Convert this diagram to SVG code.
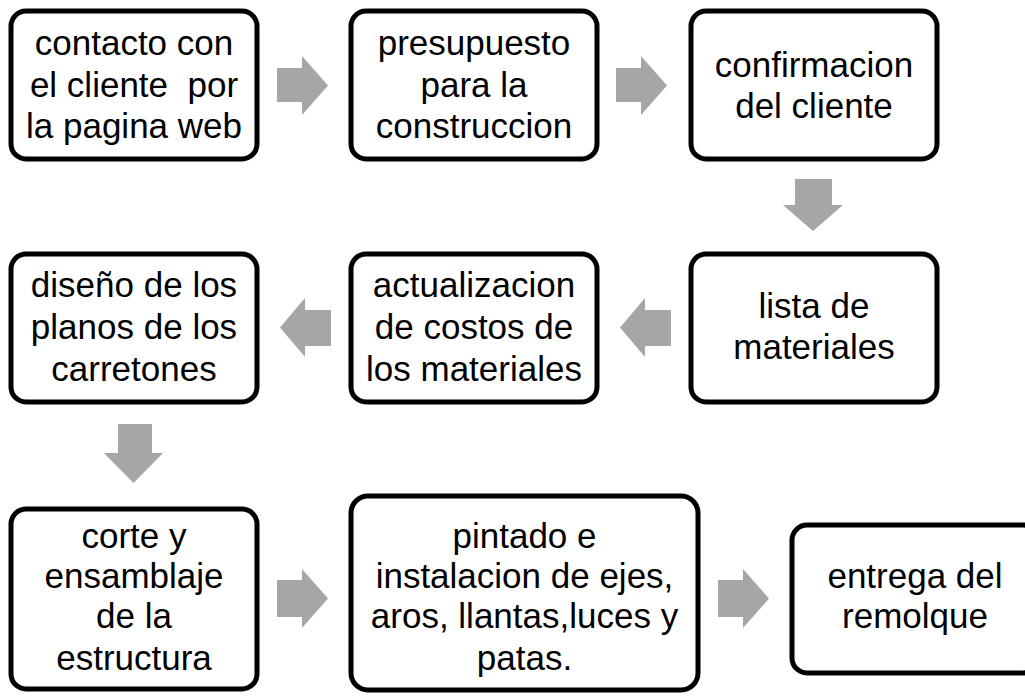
<svg xmlns="http://www.w3.org/2000/svg" width="1025" height="698" viewBox="0 0 1025 698">
<style>
.box{fill:#fff;stroke:#000;stroke-width:5}
.t{font-family:"Liberation Sans",Arial,sans-serif;font-size:35px;fill:#000;text-anchor:middle;white-space:pre}
.arr{fill:#a6a6a6}
</style>
<rect width="1025" height="698" fill="#fff"/>
<g id="connectors">
<polygon class="arr" points="277,68 302,68 302,56 328,85.5 302,115 302,102 277,102"/>
<polygon class="arr" points="616,68 641,68 641,56 667,85.5 641,115 641,102 616,102"/>
<polygon class="arr" points="795,179 832,179 832,205 843,205 813,231 783,205 795,205"/>
<polygon class="arr" points="331,310 305,310 305,298 280,327.5 305,357 305,346 331,346"/>
<polygon class="arr" points="671,310 645,310 645,298 620,327.5 645,357 645,346 671,346"/>
<polygon class="arr" points="118,424 152,424 152,453 163,453 133.5,483 104,453 118,453"/>
<polygon class="arr" points="277,580 302,580 302,569 328,598.5 302,628 302,617 277,617"/>
<polygon class="arr" points="718,580 743,580 743,569 769,598.5 743,628 743,617 718,617"/>
</g>
<g id="n1"><rect class="box" x="11" y="11" width="246" height="148" rx="15"/>
<text class="t" xml:space="preserve"><tspan x="134" y="55">contacto con</tspan><tspan x="134" y="97">el cliente  por</tspan><tspan x="134" y="138">la pagina web</tspan></text></g>
<g id="n2"><rect class="box" x="351" y="11" width="246" height="148" rx="15"/>
<text class="t"><tspan x="474" y="55">presupuesto</tspan><tspan x="474" y="97">para la</tspan><tspan x="474" y="138">construccion</tspan></text></g>
<g id="n3"><rect class="box" x="691" y="11" width="246" height="148" rx="15"/>
<text class="t"><tspan x="814" y="77">confirmacion</tspan><tspan x="814" y="118">del cliente</tspan></text></g>
<g id="n4"><rect class="box" x="691" y="254" width="246" height="148" rx="15"/>
<text class="t"><tspan x="814" y="318">lista de</tspan><tspan x="814" y="359">materiales</tspan></text></g>
<g id="n5"><rect class="box" x="351" y="254" width="246" height="148" rx="15"/>
<text class="t"><tspan x="474" y="297">actualizacion</tspan><tspan x="474" y="339">de costos de</tspan><tspan x="474" y="381">los materiales</tspan></text></g>
<g id="n6"><rect class="box" x="11" y="254" width="246" height="148" rx="15"/>
<text class="t"><tspan x="134" y="297">diseño de los</tspan><tspan x="134" y="339">planos de los</tspan><tspan x="134" y="381">carretones</tspan></text></g>
<g id="n7"><rect class="box" x="11" y="509" width="246" height="180" rx="15"/>
<text class="t"><tspan x="134" y="548">corte y</tspan><tspan x="134" y="588">ensamblaje</tspan><tspan x="134" y="628">de la</tspan><tspan x="134" y="670">estructura</tspan></text></g>
<g id="n8"><rect class="box" x="351" y="496" width="347" height="194" rx="17"/>
<text class="t"><tspan x="524.5" y="548">pintado e</tspan><tspan x="524.5" y="588">instalacion de ejes,</tspan><tspan x="524.5" y="628">aros, llantas,luces y</tspan><tspan x="524.5" y="670">patas.</tspan></text></g>
<g id="n9"><rect class="box" x="792" y="525" width="246" height="148" rx="15"/>
<text class="t"><tspan x="915" y="588">entrega del</tspan><tspan x="915" y="628">remolque</tspan></text></g>
</svg>
